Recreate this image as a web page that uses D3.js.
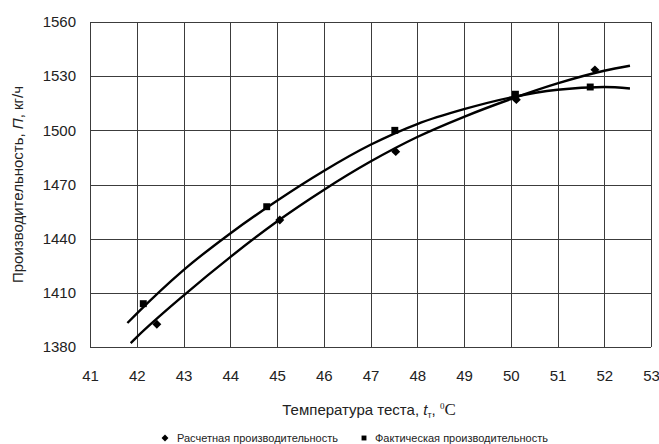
<!DOCTYPE html>
<html lang="ru">

<head>
    <meta charset="UTF-8">
    <title>Производительность и температура теста</title>
    <script src="https://d3js.org/d3.v7.min.js"></script>
    <style>
        body {
            margin: 0;
            background: #fff;
            font-family: "Liberation Sans", Arial, sans-serif;
        }
    </style>
</head>

<body>
    <div id="chart"></div>

    <script>
        // Tick values
        const xTicks = [41, 42, 43, 44, 45, 46, 47, 48, 49, 50, 51, 52, 53];
        const yTicks = [1380, 1410, 1440, 1470, 1500, 1530, 1560];

        // Points: calculated (diamonds) and actual (squares)
        const calcT = [42.43, 45.06, 47.54, 50.12, 51.8];
        const calcP = [1392.6, 1450.3, 1488.2, 1517, 1533.5];
        const factT = [42.14, 44.78, 47.52, 50.1, 51.7];
        const factP = [1404, 1457.7, 1500, 1520, 1524];

        // Trend curves
        const calcTrendT = [41.87, 42, 43, 44, 45, 46, 47, 48, 49, 50, 51, 52, 52.55];
        const calcTrendP = [1382.2, 1385.5, 1408.5, 1429.8, 1449.5, 1467, 1482.7, 1496.3, 1507.5, 1517.3, 1526, 1533, 1535.8];
        const factTrendT = [41.8, 42, 43, 44, 45, 46, 47, 48, 49, 50, 51, 52, 52.55];
        const factTrendP = [1393.3, 1398.5, 1422.6, 1442.9, 1461, 1477.5, 1492, 1503.5, 1511.7, 1518.2, 1522.5, 1524, 1523.2];

        const legendLabels = ["Расчетная производительность", "Фактическая производительность"];

        const W = 659, H = 444;
        const margin = { top: 22, right: 8, bottom: 97, left: 90 },
            width = W - margin.left - margin.right,
            height = H - margin.top - margin.bottom;

        const svg = d3.select("#chart")
            .append("svg")
            .attr("width", W)
            .attr("height", H);

        const g = svg.append("g")
            .attr("transform", `translate(${margin.left},${margin.top})`);

        const x = d3.scaleLinear().domain([41, 53]).range([0, width]);
        const y = d3.scaleLinear().domain([1380, 1560]).range([height, 0]);

        const gridColor = "#3c3c3c";
        const textColor = "#222";

        // Grid
        g.append("g")
            .selectAll("line")
            .data(xTicks)
            .enter()
            .append("line")
            .attr("x1", d => Math.round(x(d)) + 0.5)
            .attr("x2", d => Math.round(x(d)) + 0.5)
            .attr("y1", 0)
            .attr("y2", height)
            .attr("stroke", gridColor)
            .attr("stroke-width", 1);

        g.append("g")
            .selectAll("line")
            .data(yTicks)
            .enter()
            .append("line")
            .attr("x1", 0)
            .attr("x2", width)
            .attr("y1", d => Math.round(y(d)) + 0.5)
            .attr("y2", d => Math.round(y(d)) + 0.5)
            .attr("stroke", gridColor)
            .attr("stroke-width", 1);

        // Axes (labels only)
        const xAxis = g.append("g")
            .attr("transform", `translate(0,${height})`)
            .call(d3.axisBottom(x).tickValues(xTicks).tickFormat(d3.format("d")).tickSize(0).tickPadding(23));
        const yAxis = g.append("g")
            .call(d3.axisLeft(y).tickValues(yTicks).tickFormat(d3.format("d")).tickSize(0).tickPadding(14));

        [xAxis, yAxis].forEach(a => {
            a.select(".domain").remove();
            a.selectAll("text")
                .style("font-family", "'Liberation Sans', Arial, sans-serif")
                .style("font-size", "15px")
                .attr("fill", textColor);
        });

        // Trend curves
        const line = d3.line()
            .x(d => x(d[0]))
            .y(d => y(d[1]))
            .curve(d3.curveMonotoneX);

        [[calcTrendT, calcTrendP], [factTrendT, factTrendP]].forEach(([ts, ps]) => {
            g.append("path")
                .datum(ts.map((t, i) => [t, ps[i]]))
                .attr("d", line)
                .attr("fill", "none")
                .attr("stroke", "#000")
                .attr("stroke-width", 2.4);
        });

        // Markers
        const diamond = d3.symbol().type(d3.symbolSquare).size(40);
        const square = d3.symbol().type(d3.symbolSquare).size(48);

        g.append("g")
            .selectAll("path")
            .data(calcT.map((t, i) => [t, calcP[i]]))
            .enter()
            .append("path")
            .attr("d", diamond)
            .attr("transform", d => `translate(${x(d[0])},${y(d[1])}) rotate(45)`)
            .attr("fill", "#000");

        g.append("g")
            .selectAll("path")
            .data(factT.map((t, i) => [t, factP[i]]))
            .enter()
            .append("path")
            .attr("d", square)
            .attr("transform", d => `translate(${x(d[0])},${y(d[1])})`)
            .attr("fill", "#000");

        // Axis titles
        const xTitle = svg.append("text")
            .attr("x", 369)
            .attr("y", 415)
            .attr("text-anchor", "middle")
            .style("font-size", "15px")
            .attr("fill", textColor);
        xTitle.append("tspan").text("Температура теста, ");
        xTitle.append("tspan").style("font-style", "italic").text("t");
        xTitle.append("tspan").attr("dy", 3).style("font-size", "9px").text("т");
        xTitle.append("tspan").attr("dy", -3).text(", ");
        xTitle.append("tspan").attr("dy", -6).style("font-size", "9px")
            .style("font-family", "'Liberation Serif', serif").text("0");
        xTitle.append("tspan").attr("dy", 6).style("font-size", "17px")
            .style("font-family", "'Liberation Serif', serif").text("C");

        const yTitle = svg.append("text")
            .attr("transform", `translate(23,${margin.top + height / 2}) rotate(-90)`)
            .attr("text-anchor", "middle")
            .style("font-size", "15px")
            .attr("fill", textColor);
        yTitle.append("tspan").text("Производительность, ");
        yTitle.append("tspan").style("font-style", "italic").text("П");
        yTitle.append("tspan").text(", кг/ч");

        // Legend
        const legend = svg.append("g").attr("transform", "translate(0,438)");
        legend.append("path")
            .attr("d", d3.symbol().type(d3.symbolSquare).size(24))
            .attr("transform", "translate(165,0) rotate(45)")
            .attr("fill", "#000");
        legend.append("text")
            .attr("x", 177).attr("y", 4)
            .style("font-size", "11px")
            .attr("fill", textColor)
            .text(legendLabels[0]);
        legend.append("path")
            .attr("d", d3.symbol().type(d3.symbolSquare).size(24))
            .attr("transform", "translate(364,0)")
            .attr("fill", "#000");
        legend.append("text")
            .attr("x", 375).attr("y", 4)
            .style("font-size", "11px")
            .attr("fill", textColor)
            .text(legendLabels[1]);
    </script>
</body>

</html>
